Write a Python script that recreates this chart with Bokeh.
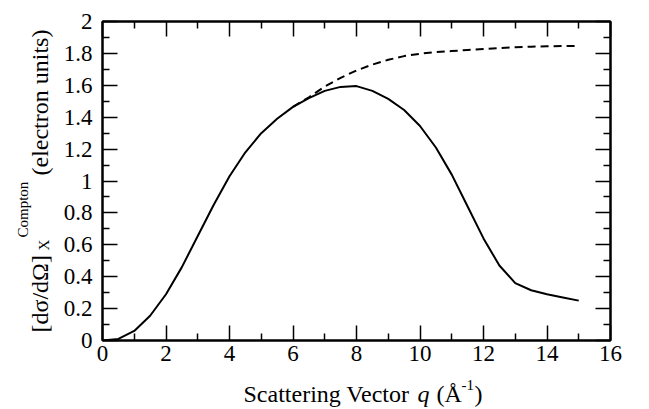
from math import pi

from bokeh.plotting import figure
from bokeh.models import Range1d, FixedTicker, LinearAxis, Label
from bokeh.layouts import column, row
from bokeh.embed import file_html
from bokeh.resources import INLINE

# Scattering vector q (1/Angstrom)
q = [0.0, 0.5, 1.0, 1.5, 2.0, 2.5, 3.0, 3.5, 4.0, 4.5, 5.0, 5.5, 6.0, 6.5,
     7.0, 7.5, 8.0, 8.5, 9.0, 9.5, 10.0, 10.5, 11.0, 11.5, 12.0, 12.5,
     13.0, 13.5, 14.0, 14.5, 15.0]

# Compton cross-section, full curve (electron units)
compton = [0.0, 0.01, 0.06, 0.155, 0.29, 0.46, 0.655, 0.85, 1.03, 1.18,
           1.30, 1.39, 1.465, 1.52, 1.565, 1.59, 1.595, 1.565, 1.515, 1.445,
           1.345, 1.21, 1.04, 0.84, 0.64, 0.47, 0.36, 0.315, 0.29, 0.27, 0.25]

# Compton cross-section without the high-q cutoff (dashed)
q_free = [6.0, 6.5, 7.0, 7.5, 8.0, 8.5, 9.0, 9.5, 10.0, 10.5, 11.0, 11.5,
          12.0, 12.5, 13.0, 13.5, 14.0, 14.5, 15.0]
compton_free = [1.465, 1.525, 1.592, 1.647, 1.693, 1.73, 1.76, 1.783, 1.798,
                1.808, 1.815, 1.821, 1.827, 1.833, 1.838, 1.842, 1.845,
                1.846, 1.846]

x_ticks = [0, 2, 4, 6, 8, 10, 12, 14, 16]
x_minor = [1, 3, 5, 7, 9, 11, 13, 15]
y_ticks = [0.0, 0.2, 0.4, 0.6, 0.8, 1.0, 1.2, 1.4, 1.6, 1.8, 2.0]
y_labels = ["0", "0.2", "0.4", "0.6", "0.8", "1", "1.2", "1.4", "1.6", "1.8", "2"]
y_minor = [0.1, 0.3, 0.5, 0.7, 0.9, 1.1, 1.3, 1.5, 1.7, 1.9]

FONT = "Liberation Serif"

# page geometry (pixels)
W, H = 649, 409
YLAB_W = 55            # strip for the rotated y title
XLAB_H = 33            # strip for the x title
FRAME_LEFT, FRAME_W = 102, 508
FRAME_TOP, FRAME_H = 21, 319
MAIN_H = H - XLAB_H


def blank(width, height, xr, yr):
    """text-only figure"""
    f = figure(width=width, height=height, min_border=0, title=None,
               x_range=Range1d(*xr), y_range=Range1d(*yr),
               output_backend="svg", toolbar_location=None,
               x_axis_location=None, y_axis_location=None)
    f.grid.visible = False
    f.outline_line_color = None
    f.background_fill_color = "white"
    f.border_fill_color = "white"
    return f


# ---- main chart ----
p = figure(frame_width=FRAME_W, frame_height=FRAME_H,
           min_border_left=FRAME_LEFT - YLAB_W,
           min_border_right=W - FRAME_LEFT - FRAME_W,
           min_border_top=FRAME_TOP,
           min_border_bottom=MAIN_H - FRAME_TOP - FRAME_H,
           x_range=Range1d(0, 16), y_range=Range1d(0, 2),
           output_backend="svg", toolbar_location=None,
           x_axis_location=None, y_axis_location=None)
p.grid.visible = False
p.background_fill_color = "white"
p.border_fill_color = "white"
p.outline_line_color = "black"
p.outline_line_width = 2

xt = FixedTicker(ticks=x_ticks, minor_ticks=x_minor)
yt = FixedTicker(ticks=y_ticks, minor_ticks=y_minor)


def style(ax, show_labels):
    ax.axis_line_color = "black"
    ax.axis_line_width = 2
    ax.major_tick_in = 15
    ax.major_tick_out = 0
    ax.minor_tick_in = 7
    ax.minor_tick_out = 0
    ax.major_tick_line_width = 1.5
    ax.minor_tick_line_width = 1.5
    ax.major_tick_line_color = "black"
    ax.minor_tick_line_color = "black"
    ax.major_label_text_font = FONT
    if show_labels:
        ax.major_label_text_color = "black"
        ax.major_label_text_font_size = "23px"
    else:
        # mirrored axis: ticks only
        ax.major_label_text_color = None
        ax.major_label_text_font_size = "1px"
        ax.major_label_standoff = 0


bottom = LinearAxis(ticker=xt, major_label_standoff=5)
style(bottom, True)
top = LinearAxis(ticker=xt)
style(top, False)
left = LinearAxis(ticker=yt, major_label_standoff=10,
                  major_label_overrides=dict(zip(y_ticks, y_labels)))
style(left, True)
right = LinearAxis(ticker=yt)
style(right, False)
p.add_layout(bottom, "below")
p.add_layout(top, "above")
p.add_layout(left, "left")
p.add_layout(right, "right")

p.line(q_free, compton_free, line_color="black", line_width=2, line_dash="8 5")
p.line(q, compton, line_color="black", line_width=2)


def label(fig, text, x, y, size, angle=0.0, style="normal", dy=0):
    fig.add_layout(Label(x=x, y=y, y_offset=dy, text=text, angle=angle,
                         text_font=FONT, text_font_size=f"{size}px",
                         text_font_style=style, text_color="black",
                         text_align="left", text_baseline="alphabetic"))


# ---- y title, rotated: [dσ/dΩ]_X^Compton (electron units) ----
# its frame lines up with the chart frame (rows 21..340 of the page)
ylab = blank(YLAB_W, MAIN_H, (0, YLAB_W), (FRAME_TOP + FRAME_H, FRAME_TOP))
BY = 39
label(ylab, "[dσ/dΩ]", BY, 332, 24, angle=pi / 2)
label(ylab, "X", BY + 4, 250, 15, angle=pi / 2)
label(ylab, "Compton", BY - 17, 237, 15, angle=pi / 2)
label(ylab, "(electron units)", BY, 175, 24, angle=pi / 2)

# ---- x title: Scattering Vector q (Å^-1) ----
# anchored to the strip's top edge, then pushed down in pixels
xlab = blank(W, XLAB_H, (0, W), (XLAB_H, 0))
BX = -17
label(xlab, "Scattering Vector", 243, 0, 24, dy=BX)
label(xlab, "q", 417, 0, 24, style="italic", dy=BX)
label(xlab, "(Å", 436, 0, 24, dy=BX)
label(xlab, "-1", 461, 0, 15, dy=BX + 9)
label(xlab, ")", 474, 0, 24, dy=BX)

layout = column(row(ylab, p, spacing=0), xlab, spacing=0)
open("out.html", "w").write(file_html(layout, INLINE))
